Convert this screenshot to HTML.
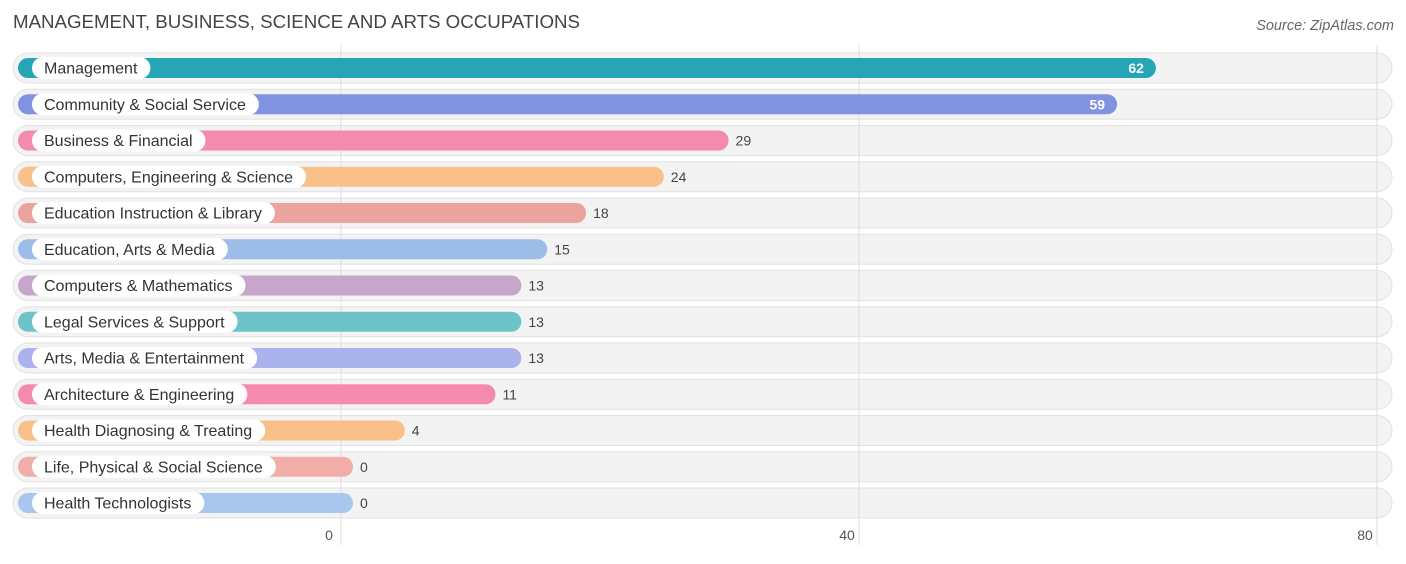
<!DOCTYPE html>
<html><head><meta charset="utf-8"><style>
body{margin:0;background:#fff;font-family:"Liberation Sans",Arial,sans-serif;}
svg text{font-family:"Liberation Sans",Arial,sans-serif;}
</style></head><body>
<svg id="chart" width="1406" height="559">
<text x="13" y="28" font-size="18.7" fill="#444">MANAGEMENT, BUSINESS, SCIENCE AND ARTS OCCUPATIONS</text>
<text x="1394" y="30" font-size="14.5" fill="#666" font-style="italic" text-anchor="end">Source: ZipAtlas.com</text>
<g id="rows"></g><g id="grid"></g><g id="fg"></g>
</svg>
<script>
const categories=["Management","Community & Social Service","Business & Financial","Computers, Engineering & Science","Education Instruction & Library","Education, Arts & Media","Computers & Mathematics","Legal Services & Support","Arts, Media & Entertainment","Architecture & Engineering","Health Diagnosing & Treating","Life, Physical & Social Science","Health Technologists"];
const values=[62,59,29,24,18,15,13,13,13,11,4,0,0];
const colors=["#26a5b5","#8193e0","#f48aad","#f9c08a","#eca39d","#9bbde8","#c8a6cc","#6cc4c9","#aab3eb","#f48aad","#f9c08a","#f1aea9","#a9c6ec"];
const ticks=[0,40,80];
const NS="http://www.w3.org/2000/svg";
const x0=341,scale=(1377-341)/80;
const gx=v=>x0+v*scale;
const barEnd=v=>353+v*scale;
const rowY=i=>68+i*36.25;
function mk(t,a,p){const e=document.createElementNS(NS,t);for(const k in a)e.setAttribute(k,a[k]);p.appendChild(e);return e;}
const grid=document.getElementById('grid'),rows=document.getElementById('rows'),fg=document.getElementById('fg');
ticks.forEach(t=>{
 const l=mk('line',{x1:gx(t),x2:gx(t),y1:45,y2:545,stroke:'#ddd','stroke-width':1},grid);
 
 
 const tx=mk('text',{x:gx(t)-12,y:540,'font-size':14,fill:'#555','text-anchor':'middle'},grid);
 tx.textContent=t;
 
 
});
const meas=document.createElementNS(NS,'text');meas.setAttribute('font-size',16);document.getElementById('chart').appendChild(meas);
categories.forEach((c,i)=>{
 const y=rowY(i);
 const bg=mk('rect',{x:13,y:y-15,width:1379,height:30,rx:15,fill:'#f3f3f3',stroke:'#e2e2e2','stroke-width':1},rows);
 
 
 const g=mk('g',{},fg);
 
 
 const e=barEnd(values[i]);
 const bar=mk('rect',{x:18,y:y-10,width:e-18,height:20,rx:10,fill:colors[i]},g);
 
 
 meas.textContent=c;const w=meas.getComputedTextLength();
 const pill=mk('rect',{x:32,y:y-11,width:w+25,height:22,rx:11,fill:'#fff'},g);
 
 
 const lt=mk('text',{x:44,y:y+5.5,'font-size':16,fill:'#333'},g);
 lt.textContent=c;
 
 
 const inside=values[i]>40;
 const vt=mk('text',{x:inside?e-12:e+7,y:y+5,'font-size':14,fill:inside?'#fff':'#444','text-anchor':inside?'end':'start','font-weight':inside?'bold':'normal'},g);
 vt.textContent=values[i];
 
 
});
meas.remove();
</script>
</body></html>
